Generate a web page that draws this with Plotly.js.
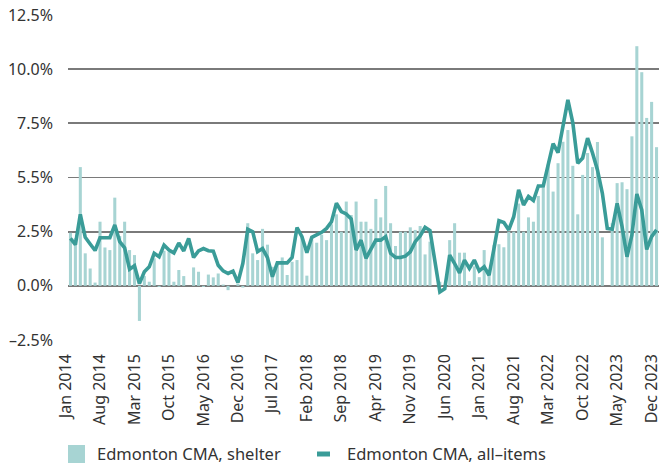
<!DOCTYPE html>
<html>
<head>
<meta charset="utf-8">
<script src="https://cdn.plot.ly/plotly-3.0.1.min.js"></script>
<style>
  html, body { margin: 0; padding: 0; background: #ffffff; }
  #chart { width: 663px; height: 465px; }
</style>
</head>
<body>
<div id="chart"></div>
<script>
// Monthly categories, Jan 2014 to Dec 2023
const monthNames = ["Jan","Feb","Mar","Apr","May","Jun","Jul","Aug","Sep","Oct","Nov","Dec"];
const years = [2014, 2015, 2016, 2017, 2018, 2019, 2020, 2021, 2022, 2023];
const categories = [];
years.forEach(y => monthNames.forEach(m => categories.push(m + " " + y)));

// Tick labels shown on the x axis
const xTickLabels = ["Jan 2014","Aug 2014","Mar 2015","Oct 2015","May 2016","Dec 2016","Jul 2017",
  "Feb 2018","Sep 2018","Apr 2019","Nov 2019","Jun 2020","Jan 2021","Aug 2021","Mar 2022",
  "Oct 2022","May 2023","Dec 2023"];

// Y ticks (as printed on the original)
const yTickVals = [-2.5, 0, 2.5, 5, 7.5, 10, 12.5];
const yTickText = ["\u20132.5%", "0.0%", "2.5%", "5.5%", "7.5%", "10.0%", "12.5%"];

// Series names
const seriesNames = ["Edmonton CMA, shelter", "Edmonton CMA, all\u2013items"];

// Edmonton CMA, shelter (y/y %)
const shelter = [
  2.45, 2.2, 5.48, 1.5, 0.8, 0.15, 2.96, 1.77, 1.65, 4.07, 2.3, 2.96,
  1.65, 1.42, -1.62, 0.45, 0.19, 1.27, -0.05, 1.62, 1.57, 0.19, 0.73, 0.45,
  0, 0.85, 0.65, -0.05, 0.52, 0.39, 0.57, 0.06, -0.2, 0, 0.1, -0.08,
  2.89, 1.5, 1.19, 2.63, 1.9, 0.88, 1.03, 1.31, 0.5, 1.11, 1.19, 2.27,
  0.47, 2.15, 1.99, 2.36, 2.11, 2.84, 3.3, 2.5, 3.89, 3.27, 3.89, 2.96,
  2.96, 2.63, 4.01, 3.16, 4.61, 2.89, 1.84, 2.5, 2.5, 2.7, 2.58, 2.76,
  1.45, 2.04, 0, 0.19, 0, 2.11, 2.89, 1.53, 1.53, 0.22, 0.9, 0.4,
  1.65, 0.6, 1.88, 1.92, 1.78, 2.5, 2.5, 3.8, 2.5, 3.16, 2.96, 4.15,
  4.52, 5.6, 4.35, 5.66, 6.65, 7.19, 5.54, 3.3, 5.12, 6.13, 5.48, 6.64,
  2.24, 0, 2.89, 4.74, 4.78, 4.46, 6.9, 11.06, 9.86, 7.75, 8.49, 6.4
];

// Edmonton CMA, all-items (y/y %)
const allItems = [
  2.19, 1.9, 3.3, 2.24, 1.93, 1.63, 2.22, 2.22, 2.22, 2.81, 2.04, 1.75,
  0.77, 0.93, 0.1, 0.65, 0.88, 1.5, 1.34, 1.88, 1.65, 1.52, 1.98, 1.61,
  2.19, 1.31, 1.61, 1.72, 1.62, 1.6, 0.95, 0.69, 0.57, 0.68, 0.15, 1.03,
  2.61, 2.5, 1.58, 1.72, 1.3, 0.42, 1.06, 1.06, 1.06, 1.31, 2.69, 2.27,
  1.53, 2.24, 2.35, 2.47, 2.65, 2.96, 3.81, 3.43, 3.32, 3.09, 1.65, 2.11,
  1.27, 1.65, 2.11, 2.11, 2.27, 1.5, 1.31, 1.31, 1.37, 1.57, 2.04, 2.3,
  2.7, 2.55, 1.19, -0.28, -0.13, 1.42, 1.03, 0.6, 1.19, 0.8, 1.19, 0.69,
  0.88, 0.49, 1.73, 3.01, 2.92, 2.58, 3.19, 4.43, 3.73, 4.12, 3.94, 4.61,
  4.61, 5.59, 6.56, 6.15, 7.3, 8.58, 7.52, 5.66, 5.9, 6.82, 6.13, 5.35,
  4.27, 2.65, 2.61, 3.81, 2.73, 1.34, 2.35, 4.24, 3.5, 1.68, 2.27, 2.58
];

const FONT = "Noto Sans, Open Sans, sans-serif";
const BAR_COLOR = "#a7d4d3";
const LINE_COLOR = "#3a9c98";
const TEXT_COLOR = "#333333";

// plot area geometry (pixels) used to place the custom legend
const W = 663, H = 465;
const M = { l: 68, r: 4, t: 15, b: 125 };
const PW = W - M.l - M.r, PH = H - M.t - M.b;
const px = x => (x - M.l) / PW;          // page x -> paper x
const py = y => (H - M.b - y) / PH;      // page y -> paper y

const traces = [
  {
    type: "bar",
    name: seriesNames[0],
    x: categories,
    y: shelter,
    marker: { color: BAR_COLOR, line: { width: 0 } },
    showlegend: false
  },
  {
    type: "scatter",
    mode: "lines",
    name: seriesNames[1],
    x: categories,
    y: allItems,
    line: { color: LINE_COLOR, width: 3.6, shape: "linear" },
    showlegend: false
  }
];

const layout = {
  width: W,
  height: H,
  margin: M,
  paper_bgcolor: "#ffffff",
  plot_bgcolor: "#ffffff",
  font: { family: FONT, size: 16, color: TEXT_COLOR },
  bargap: 0.38,
  showlegend: false,
  xaxis: {
    type: "category",
    categoryorder: "array",
    categoryarray: categories,
    tickmode: "array",
    tickvals: xTickLabels,
    ticktext: xTickLabels,
    tickangle: -90,
    showgrid: false,
    zeroline: false,
    showline: false,
    ticks: "",
    automargin: false,
    ticklabelstandoff: 10,
    ticklabelshift: -5,
    tickfont: { family: FONT, size: 16, color: TEXT_COLOR },
    fixedrange: true
  },
  yaxis: {
    range: [-2.5, 12.5],
    tickmode: "array",
    tickvals: yTickVals,
    ticktext: yTickText,
    showgrid: true,
    gridcolor: "#7a7a7a",
    gridwidth: 1.8,
    zeroline: true,
    zerolinecolor: "#7a7a7a",
    zerolinewidth: 1.8,
    showline: false,
    ticks: "",
    automargin: false,
    ticklabelstandoff: 14,
    tickfont: { family: FONT, size: 16, color: TEXT_COLOR },
    fixedrange: true
  },
  shapes: [
    {
      type: "rect", xref: "paper", yref: "paper",
      x0: px(68), x1: px(85), y0: py(463), y1: py(445),
      fillcolor: BAR_COLOR, line: { width: 0 }
    },
    {
      type: "line", xref: "paper", yref: "paper",
      x0: px(317), x1: px(330), y0: py(454), y1: py(454),
      line: { color: LINE_COLOR, width: 5 }
    }
  ],
  annotations: [
    {
      xref: "paper", yref: "paper", x: px(96), y: py(453),
      xanchor: "left", yanchor: "middle", showarrow: false, borderpad: 0,
      text: seriesNames[0], font: { family: FONT, size: 16.5, color: TEXT_COLOR }
    },
    {
      xref: "paper", yref: "paper", x: px(346), y: py(453),
      xanchor: "left", yanchor: "middle", showarrow: false, borderpad: 0,
      text: seriesNames[1], font: { family: FONT, size: 16.5, color: TEXT_COLOR }
    }
  ]
};

Plotly.newPlot("chart", traces, layout, { displayModeBar: false, staticPlot: true });
</script>
</body>
</html>
